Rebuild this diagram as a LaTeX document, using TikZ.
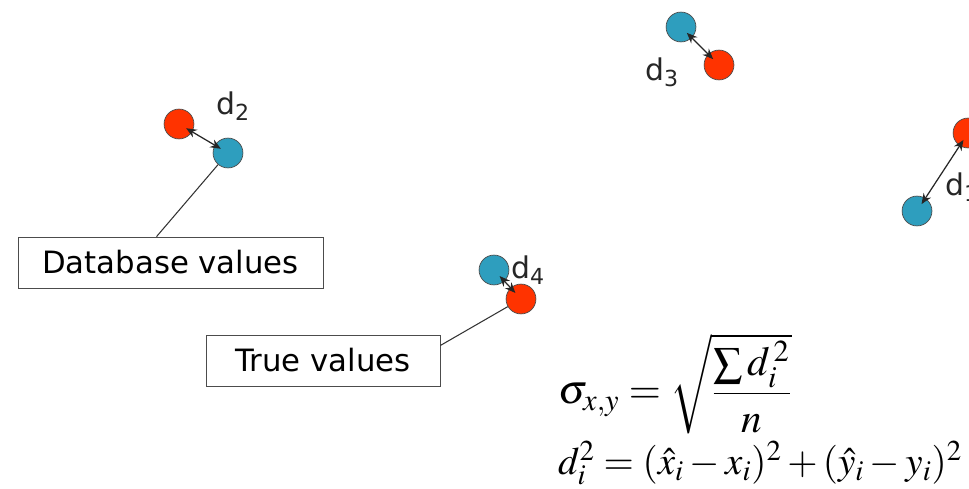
\documentclass[tikz,border=0pt]{standalone}
\usepackage{amsmath}
\usepackage{mathptmx}
\usepackage[no-math]{fontspec}
\setsansfont{DejaVu Sans}
\usetikzlibrary{arrows.meta}
\definecolor{truered}{HTML}{FF3300}
\definecolor{dbblue}{HTML}{2E9EBE}
\tikzset{truept/.style={circle,fill=truered,draw=black!70,thin,minimum size=17pt,inner sep=0pt},
  dbpt/.style={circle,fill=dbblue,draw=black!70,thin,minimum size=17pt,inner sep=0pt},
  dlbl/.style={font=\sffamily\fontsize{17}{20}\selectfont,text=black!85},
  valbox/.style={draw=black!70,fill=white,font=\sffamily\fontsize{17.5}{20}\selectfont,inner sep=0pt,minimum height=51*0.02cm},
  dist/.style={{Stealth[length=6pt,width=5pt]}-{Stealth[length=6pt,width=5pt]},black!85,line width=.7pt,shorten <=-4pt,shorten >=-4pt}}

\begin{document}
\begin{tikzpicture}[x=0.02cm,y=-0.02cm]
\useasboundingbox(0,0)rectangle(969,489);
\node[truept](r2)at(179,124){};\node[dbpt](b2)at(228,153){};
\node[dbpt](b3)at(681,27){};\node[truept](r3)at(719,65){};
\node[truept](r1)at(968,133){};\node[dbpt](b1)at(917,211){};
\node[dbpt](b4)at(494,270){};\node[truept](r4)at(521,299){};
\draw[dist](r2)--(b2);\draw[dist](b3)--(r3);\draw[dist](r1)--(b1);\draw[dist](b4)--(r4);
\node[dlbl]at(233,106){d\textsubscript{2}};\node[dlbl]at(662,72){d\textsubscript{3}};
\node[dlbl]at(962,187){d\textsubscript{1}};\node[dlbl]at(528,270){d\textsubscript{4}};
\node[valbox,minimum width=305*0.02cm](dbv)at(170.5,262.5){Database values};
\node[valbox,minimum width=234*0.02cm](tv)at(323,360.5){True values};
\draw[black!80,line width=.6pt](dbv.north)++(-14,0)--(b2);\draw[black!80,line width=.6pt](tv.east)++(0,-15)--(r4);
% accuracy formula
\node[anchor=west,font=\fontsize{23.5}{28}\selectfont](sig)at(552,384){$\sigma_{x,y}=\sqrt{\dfrac{\sum d_i^{\,2}}{n}}$};
\node[anchor=west,font=\fontsize{22.2}{27}\selectfont](dsq)at(552,463){$d_i^2=(\hat{x}_i-x_i)^2+(\hat{y}_i-y_i)^2$};
\end{tikzpicture}
\end{document}
